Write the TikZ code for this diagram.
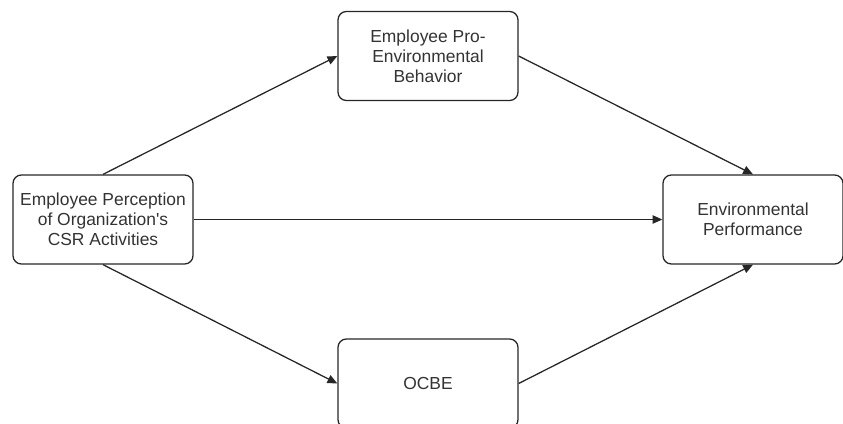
\documentclass[tikz,border=0pt]{standalone}
\usepackage{fontspec}
\setmainfont{Liberation Sans}
\usetikzlibrary{arrows.meta}
\tikzset{%
  box/.style={draw=black!85,rounded corners=6pt,minimum width=4.5cm,minimum height=2.225cm,
    align=center,inner sep=2pt,text=black!80,font=\fontsize{12.4}{14.2}\selectfont},
  link/.style={draw=black!85,-{Triangle[length=7pt,width=6pt]}}
}

\begin{document}
\begin{tikzpicture}[x=0.025cm,y=-0.025cm,line width=0.9pt]
  \clip (0,0) rectangle (843,423);
  \useasboundingbox (0,0) rectangle (843,423);
  \node[box] (csr) at (103,219.5) {Employee Perception\\of Organization\textquotesingle s\\CSR Activities};
  \node[box] (peb) at (428,56) {Employee Pro-\\Environmental\\Behavior};
  \node[box] (perf) at (753,219.5) {Environmental\\Performance};
  \node[box] (ocbe) at (428,383.5) {OCBE};
  %%%
  \draw[link] (csr.north) -- (peb.west);
  \draw[link] (csr.east) -- (perf.west);
  \draw[link] (csr.south) -- (ocbe.west);
  \draw[link] (peb.east) -- (perf.north);
  \draw[link] (ocbe.east) -- (perf.south);
\end{tikzpicture}
\end{document}
